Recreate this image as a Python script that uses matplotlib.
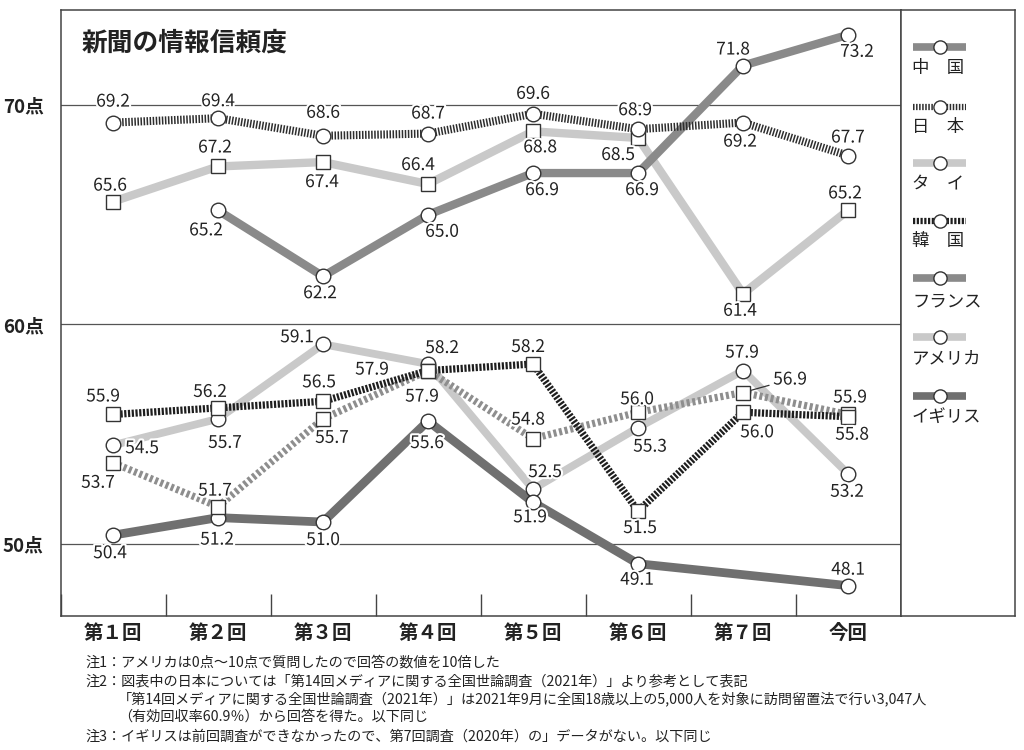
import numpy as np
import matplotlib
matplotlib.use('Agg')
import matplotlib.pyplot as plt
import matplotlib.patheffects as pe

plt.rcParams['font.family'] = ['Noto Sans CJK JP', 'DejaVu Sans']
plt.rcParams['lines.scale_dashes'] = False

# ---------------- data ----------------
categories = ['第１回', '第２回', '第３回', '第４回', '第５回', '第６回', '第７回', '今回']
china  = [np.nan, 65.2, 62.2, 65.0, 66.9, 66.9, 71.8, 73.2]
japan  = [69.2, 69.4, 68.6, 68.7, 69.6, 68.9, 69.2, 67.7]
thai   = [65.6, 67.2, 67.4, 66.4, 68.8, 68.5, 61.4, 65.2]
korea  = [55.9, 56.2, 56.5, 57.9, 58.2, 51.5, 56.0, 55.8]
france = [53.7, 51.7, 55.7, 57.9, 54.8, 56.0, 56.9, 55.9]
usa    = [54.5, 55.7, 59.1, 58.2, 52.5, 55.3, 57.9, 53.2]
uk     = [50.4, 51.2, 51.0, 55.6, 51.9, 49.1, np.nan, 48.1]
ytick_values = [50, 60, 70]
ytick_labels = ['50点', '60点', '70点']
legend_names = ['中　国', '日　本', 'タ　イ', '韓　国', 'フランス', 'アメリカ', 'イギリス']
title = '新聞の情報信頼度'
notes = [
    '注1：アメリカは0点〜10点で質問したので回答の数値を10倍した',
    '注2：図表中の日本については「第14回メディアに関する全国世論調査（2021年）」より参考として表記',
    '「第14回メディアに関する全国世論調査（2021年）」は2021年9月に全国18歳以上の5,000人を対象に訪問留置法で行い3,047人',
    '（有効回収率60.9％）から回答を得た。以下同じ',
    '注3：イギリスは前回調査ができなかったので、第7回調査（2020年）の」データがない。以下同じ',
]

# ---------------- label offsets (pixels, +y up) ----------------
off_china  = [None, (-12, -20), (-3, -17), (14, -17), (9, -17), (4, -17), (-10, 16), (9, -17)]
off_japan  = [(0, 21), (0, 17), (0, 23), (0, 20), (0, 20), (-3, 19), (-3, -19), (0, 18)]
off_thai   = [(-3, 16), (-3, 19), (-1, -20), (-10, 19), (7, -16), (-20, -17), (-3, -17), (-3, 17)]
off_korea  = [(-10, 18), (-8, 16), (-4, 19), (-56, 1), (-5, 17), (2, -17), (14, -20), (4, -18)]
off_france = [(-15, -20), (-3, 16), (9, -19), (-6, -26), (-5, 19), (-1, 13), (47, 13), (2, 17)]
off_usa    = [(29, -3), (7, -24), (-26, 7), (14, 16), (12, 17), (12, -19), (-1, 18), (-1, -18)]
off_uk     = [(-3, -18), (-1, -22), (0, -18), (-1, -22), (-3, -15), (-1, -16), None, (0, 16)]

DARK = '#8a8a8a'
UKC = '#707070'
LIGHT = '#c9c9c9'
FR = '#8e8e8e'

series = [
    # values, offsets, color, lw, linestyle, marker, zorder
    (thai,   off_thai,   LIGHT, 6.0, '-', 's', 3.0),
    (china,  off_china,  DARK,  6.0, '-', 'o', 3.1),
    (usa,    off_usa,    LIGHT, 5.6, '-', 'o', 3.2),
    (uk,     off_uk,     UKC,   6.3, '-', 'o', 3.3),
    (france, off_france, FR,    5.2, (0, (2.2, 1.9)), 's', 3.4),
    (korea,  off_korea,  '#1e1e1e', 5.2, (0, (1.6, 1.1)), 's', 3.5),
    (japan,  off_japan,  '#2e2e2e', 5.8, (0, (1.1, 1.1)), 'o', 3.6),
]

W, H = 1024, 750
fig = plt.figure(figsize=(W / 100, H / 100), dpi=100)
fig.patch.set_facecolor('white')

L, R, T, B = 60.5, 900.5, 10, 615.5
ax = fig.add_axes([L / W, 1 - B / H, (R - L) / W, (B - T) / H])
ax.set_xlim(-0.5, 7.5)
ax.set_ylim(46.74, 74.33)

x = np.arange(len(categories))
halo = [pe.withStroke(linewidth=3, foreground='white')]

for vals, offs, col, lw, ls, mk, z in series:
    v = np.array(vals, dtype=float)
    m = ~np.isnan(v)
    ax.plot(x[m], v[m], color=col, lw=lw, ls=ls, solid_capstyle='butt',
            dash_capstyle='butt', zorder=2 + (z - 3) * 0.1)
for vals, offs, col, lw, ls, mk, z in series:
    v = np.array(vals, dtype=float)
    m = ~np.isnan(v)
    ax.plot(x[m], v[m], ls='none', marker=mk, ms=10.5, mfc='white',
            mec='#333333', mew=1.0, zorder=z)
    for i in range(len(v)):
        if not m[i] or offs[i] is None:
            continue
        txt = f'{v[i]:.1f}'
        if vals is france and i == 6:
            ax.annotate(txt, (x[i], v[i]), xytext=offs[i], textcoords='offset pixels',
                        ha='center', va='center', fontsize=12.5, color='#222222',
                        zorder=6, path_effects=halo,
                        arrowprops=dict(arrowstyle='-', color='#333333', lw=0.9,
                                        shrinkA=1, shrinkB=6))
        else:
            ax.annotate(txt, (x[i], v[i]), xytext=offs[i], textcoords='offset pixels',
                        ha='center', va='center', fontsize=12.5, color='#222222',
                        zorder=6, path_effects=halo)

for yv in ytick_values:
    ax.axhline(yv, color='#555555', lw=0.9, zorder=1)

ax.set_xticks(x)
ax.set_xticklabels(categories, fontsize=14, fontweight='bold', color='#222222')
ax.set_xticks(np.arange(-0.5, 7.6, 1.0), minor=True)
ax.tick_params(axis='x', which='major', length=0, pad=6)
ax.tick_params(axis='x', which='minor', direction='in', length=16, width=1.0, color='#444444')
ax.set_yticks(ytick_values)
ax.set_yticklabels(ytick_labels, fontsize=13.5, fontweight='bold', color='#222222')
ax.tick_params(axis='y', length=0, pad=12)
for s in ax.spines.values():
    s.set_color('#444444')
    s.set_linewidth(1.1)

fig.text(82 / W, 1 - 43 / H, title, fontsize=18.5, fontweight='bold',
         color='#222222', ha='left', va='center')

# ---------------- legend panel ----------------
lg = fig.add_axes([R / W, 1 - B / H, (1015 - R) / W, (B - T) / H])
lg.set_xlim(R, 1015)
lg.set_ylim(B, T)
lg.set_xticks([])
lg.set_yticks([])
for s in lg.spines.values():
    s.set_color('#444444')
    s.set_linewidth(1.1)

leg_styles = [
    (DARK, 5.5, '-'),
    ('#2e2e2e', 4.5, (0, (1.1, 1.1))),
    (LIGHT, 5.5, '-'),
    ('#1e1e1e', 4.5, (0, (1.6, 1.1))),
    (DARK, 5.5, '-'),
    (LIGHT, 5.5, '-'),
    (UKC, 5.5, '-'),
]
leg_line_y = [47, 107, 163, 221, 278, 337, 396]
leg_text_y = [68, 127, 184, 241, 301, 358, 417]
for name, (col, lw, ls), ly, ty in zip(legend_names, leg_styles, leg_line_y, leg_text_y):
    lg.plot([913, 966], [ly, ly], color=col, lw=lw, ls=ls, solid_capstyle='butt',
            dash_capstyle='butt', zorder=2)
    lg.plot([939.5], [ly], marker='o', ms=9.5, mfc='white', mec='#333333', mew=1.0, zorder=3)
    lg.text(912, ty, name, fontsize=12.5, color='#222222', ha='left', va='center')

# ---------------- notes ----------------
note_x = [85, 85, 118, 118, 85]
note_y = [662, 681, 699, 717, 737]
for t, nx, ny in zip(notes, note_x, note_y):
    fig.text(nx / W, 1 - ny / H, t, fontsize=10.2, color='#222222', ha='left', va='center')

fig.savefig('out.png', dpi=100, facecolor='white')
